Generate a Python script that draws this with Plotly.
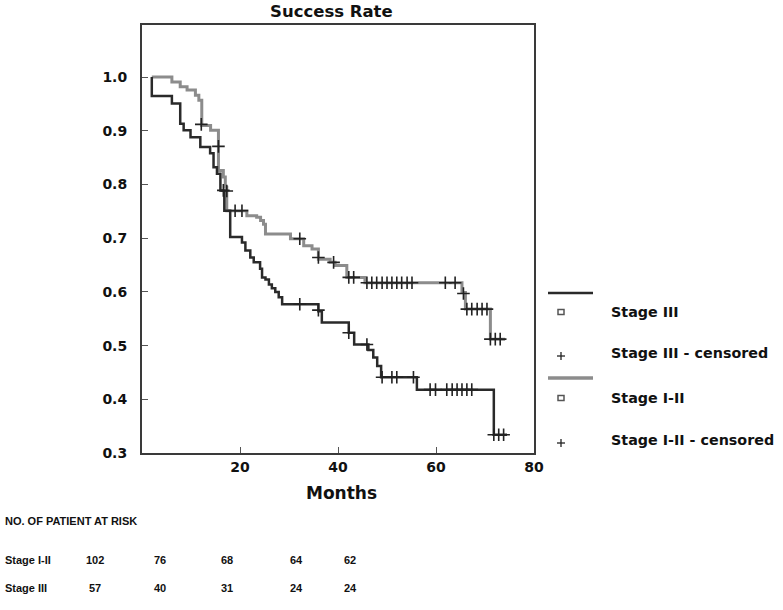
import plotly.graph_objects as go

# ---------------- data ----------------
stage3_t = [2.0, 2.0, 6.1, 7.8, 8.5, 9.9, 11.9, 13.9, 14.6, 15.3, 16.0, 16.8, 18.0, 20.4, 21.1,
            22.1, 22.8, 24.1, 24.5, 25.2, 25.9, 26.5, 27.2, 27.9, 28.6, 36.0, 36.7, 42.2, 43.3,
            46.2, 47.2, 48.0, 48.8, 56.1, 71.8, 74.5]
stage3_s = [1.0, 0.965, 0.951, 0.913, 0.901, 0.888, 0.870, 0.858, 0.832, 0.820, 0.789, 0.751, 0.702,
            0.692, 0.677, 0.664, 0.655, 0.643, 0.627, 0.623, 0.614, 0.607, 0.600, 0.590, 0.577,
            0.564, 0.543, 0.524, 0.502, 0.492, 0.478, 0.462, 0.441, 0.418, 0.334, 0.334]

stage12_t = [2.0, 6.1, 7.8, 9.2, 10.9, 11.6, 12.2, 12.2, 14.0, 15.6, 16.6, 17.0, 17.3, 21.4, 23.4,
             24.2, 24.8, 25.2, 30.3, 33.0, 34.7, 36.0, 38.4, 39.4, 41.8, 45.5, 65.3, 66.0, 71.1, 74.1]
stage12_s = [1.0, 0.991, 0.982, 0.976, 0.966, 0.957, 0.944, 0.910, 0.901, 0.826, 0.814, 0.795, 0.751,
             0.742, 0.739, 0.733, 0.726, 0.708, 0.699, 0.686, 0.680, 0.661, 0.655, 0.649, 0.627,
             0.617, 0.599, 0.568, 0.512, 0.512]

stage3_cens_t = [16.6, 32.2, 36.0, 42.2, 45.9, 49.0, 51.0, 52.0, 55.4, 58.8, 59.9, 62.2, 63.3,
                 64.3, 65.3, 66.3, 67.3, 71.8, 72.8, 73.8]
stage3_cens_s = [0.789, 0.577, 0.566, 0.524, 0.502, 0.441, 0.441, 0.441, 0.441, 0.418, 0.418, 0.418,
                 0.418, 0.418, 0.418, 0.418, 0.418, 0.334, 0.334, 0.334]

stage12_cens_t = [12.1, 15.6, 17.3, 19.0, 20.4, 32.2, 36.0, 39.1, 42.2, 43.2, 45.9, 46.9, 47.9, 49.0,
                  50.0, 51.0, 52.0, 53.0, 54.1, 55.1, 61.9, 63.9, 65.6, 66.3, 67.3, 68.4, 69.4, 70.4,
                  71.1, 72.1, 73.1]
stage12_cens_s = [0.912, 0.871, 0.788, 0.751, 0.751, 0.699, 0.664, 0.655, 0.627, 0.627, 0.617, 0.617,
                  0.617, 0.617, 0.617, 0.617, 0.617, 0.617, 0.617, 0.617, 0.617, 0.617, 0.597, 0.568,
                  0.568, 0.568, 0.568, 0.568, 0.512, 0.512, 0.512]

x_ticks = [20, 40, 60, 80]
y_ticks = [0.3, 0.4, 0.5, 0.6, 0.7, 0.8, 0.9, 1.0]
y_tick_labels = ["0.3", "0.4", "0.5", "0.6", "0.7", "0.8", "0.9", "1.0"]

risk_title = "NO. OF PATIENT AT RISK"
risk_groups = ["Stage I-II", "Stage III"]
risk_stage12 = [102, 76, 68, 64, 62]
risk_stage3 = [57, 40, 31, 24, 24]

legend_labels = ["Stage III", "Stage III - censored", "Stage I-II", "Stage I-II - censored"]

# ---------------- layout helpers ----------------
W, H = 783, 610
L, R, T, B = 142, 534, 25, 453


def xp(px):
    return (px - L) / (R - L)


def yp(py):
    return (B - py) / (B - T)


DARK = "#2a2a2a"
GRAY = "#8c8c8c"
FONT = "DejaVu Sans, Liberation Sans, sans-serif"
NARROW = "Liberation Sans, Arial, sans-serif"

fig = go.Figure()

fig.add_trace(go.Scatter(x=stage12_t, y=stage12_s, mode="lines", line=dict(color=GRAY, width=3, shape="hv"),
                         showlegend=False, hoverinfo="skip"))
fig.add_trace(go.Scatter(x=stage3_t, y=stage3_s, mode="lines", line=dict(color=DARK, width=2.5, shape="hv"),
                         showlegend=False, hoverinfo="skip"))
fig.add_trace(go.Scatter(x=stage12_cens_t, y=stage12_cens_s, mode="markers",
                         marker=dict(symbol="cross-thin", size=9, line=dict(color="#222", width=1.6)),
                         showlegend=False, hoverinfo="skip"))
fig.add_trace(go.Scatter(x=stage3_cens_t, y=stage3_cens_s, mode="markers",
                         marker=dict(symbol="cross-thin", size=9, line=dict(color="#222", width=1.6)),
                         showlegend=False, hoverinfo="skip"))

axis_common = dict(showline=True, linecolor="#3a3a3a", linewidth=2, mirror=True, showgrid=False,
                   zeroline=False, ticks="inside", ticklen=6, tickwidth=1.2, tickcolor="#555",
                   tickfont=dict(family=FONT, size=14, color="#111", weight="bold"))

fig.update_xaxes(range=[0, 80], tickvals=x_ticks, **axis_common)
fig.update_yaxes(range=[0.3, 1.097], tickvals=y_ticks, ticktext=y_tick_labels,
                 ticklabelstandoff=10, **axis_common)

annotations = []
shapes = []

# title and axis title
annotations.append(dict(text="Success Rate", x=xp(331), y=yp(12), xref="paper", yref="paper",
                        showarrow=False, xanchor="center", yanchor="middle",
                        font=dict(family=FONT, size=16.5, color="#111", weight="bold")))
annotations.append(dict(text="Months", x=xp(341), y=yp(493), xref="paper", yref="paper",
                        showarrow=False, xanchor="center", yanchor="middle",
                        font=dict(family=FONT, size=17, color="#111", weight="bold")))

# legend (drawn manually)
leg_rows = [
    ("line", DARK, 293, 2.5),
    ("square", legend_labels[0], 312, None),
    ("plus", legend_labels[1], 353, None),
    ("line", GRAY, 378, 3.5),
    ("square", legend_labels[2], 398, None),
    ("plus", legend_labels[3], 440, None),
]
for kind, val, py, w in leg_rows:
    if kind == "line":
        shapes.append(dict(type="line", xref="paper", yref="paper", x0=xp(548), x1=xp(593),
                           y0=yp(py), y1=yp(py), line=dict(color=val, width=w)))
    else:
        if kind == "square":
            shapes.append(dict(type="rect", xref="paper", yref="paper", x0=xp(558), x1=xp(564),
                               y0=yp(py + 2.5), y1=yp(py - 2.5), line=dict(color="#555", width=1.5)))
        else:
            shapes.append(dict(type="line", xref="paper", yref="paper", x0=xp(557), x1=xp(565),
                               y0=yp(py + 3), y1=yp(py + 3), line=dict(color="#222", width=1.3)))
            shapes.append(dict(type="line", xref="paper", yref="paper", x0=xp(561), x1=xp(561),
                               y0=yp(py - 1), y1=yp(py + 7), line=dict(color="#222", width=1.3)))
        annotations.append(dict(text=val, x=xp(609), y=yp(py), xref="paper", yref="paper",
                                showarrow=False, xanchor="left", yanchor="middle",
                                font=dict(family=FONT, size=14.3, color="#111", weight="bold")))

# number at risk table
TFONT = dict(family=NARROW, size=11, color="#111", weight="bold")
annotations.append(dict(text=risk_title, x=xp(3), y=yp(521), xref="paper", yref="paper",
                        showarrow=False, xanchor="left", yanchor="middle", font=TFONT))
col_px = [95, 160, 227, 296, 350]
for row_py, name, vals in [(560, risk_groups[0], risk_stage12), (588, risk_groups[1], risk_stage3)]:
    annotations.append(dict(text=name, x=xp(3), y=yp(row_py), xref="paper", yref="paper",
                            showarrow=False, xanchor="left", yanchor="middle", font=TFONT))
    for cx, v in zip(col_px, vals):
        annotations.append(dict(text=str(v), x=xp(cx), y=yp(row_py), xref="paper", yref="paper",
                                showarrow=False, xanchor="center", yanchor="middle", font=TFONT))

fig.update_layout(width=W, height=H, margin=dict(l=L, r=W - R, t=T, b=H - B),
                  plot_bgcolor="white", paper_bgcolor="white", showlegend=False,
                  annotations=annotations, shapes=shapes)

fig.write_html("out.html", config={"displayModeBar": False},
               post_script="document.body.style.margin='0';document.body.style.overflow='hidden';")
